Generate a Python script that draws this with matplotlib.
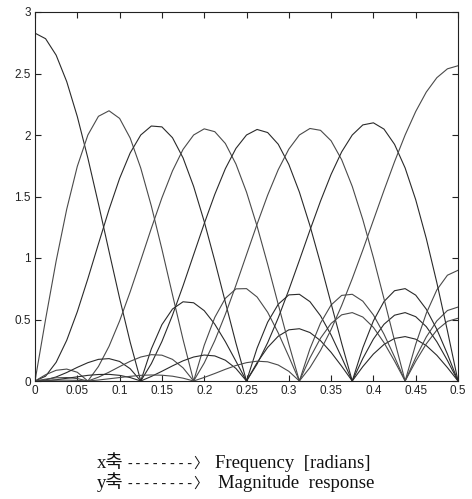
import matplotlib
matplotlib.use("Agg")
import matplotlib.pyplot as plt

freq = [0.0, 0.0125, 0.025, 0.0375, 0.05, 0.0625, 0.075, 0.0875, 0.1, 0.1125,
        0.125, 0.1375, 0.15, 0.1625, 0.175, 0.1875, 0.2, 0.2125, 0.225, 0.2375,
        0.25, 0.2625, 0.275, 0.2875, 0.3, 0.3125, 0.325, 0.3375, 0.35, 0.3625,
        0.375, 0.3875, 0.4, 0.4125, 0.425, 0.4375, 0.45, 0.4625, 0.475, 0.4875, 0.5]

h0 = [2.828, 2.783, 2.649, 2.434, 2.150, 1.812, 1.440, 1.054, 0.673, 0.316, 0, 0.261, 0.458, 0.585,
      0.644, 0.636, 0.572, 0.462, 0.320, 0.161, 0, 0.149, 0.273, 0.364, 0.416, 0.425, 0.394, 0.328,
      0.233, 0.120, 0, 0.117, 0.219, 0.297, 0.346, 0.361, 0.340, 0.288, 0.209, 0.109, 0]
h1 = [0, 0.501, 0.976, 1.397, 1.745, 2.0, 2.152, 2.197, 2.135, 1.975, 1.731, 1.423, 1.072, 0.702,
      0.337, 0, 0.290, 0.517, 0.672, 0.749, 0.751, 0.683, 0.559, 0.391, 0.199, 0, 0.188, 0.348,
      0.468, 0.538, 0.556, 0.520, 0.436, 0.312, 0.162, 0, 0.160, 0.302, 0.414, 0.485, 0.510]
h2 = [0, 0.039, 0.152, 0.331, 0.563, 0.832, 1.115, 1.394, 1.647, 1.854, 2.0, 2.073, 2.066, 1.978,
      1.814, 1.582, 1.297, 0.977, 0.641, 0.308, 0, 0.267, 0.478, 0.624, 0.700, 0.705, 0.645, 0.530,
      0.374, 0.191, 0, 0.183, 0.341, 0.461, 0.535, 0.556, 0.523, 0.442, 0.319, 0.167, 0]
h3 = [0, 0.051, 0.087, 0.097, 0.071, 0, 0.118, 0.282, 0.488, 0.725, 0.981, 1.241, 1.489, 1.708,
      1.883, 2.0, 2.050, 2.027, 1.931, 1.764, 1.536, 1.259, 0.949, 0.623, 0.301, 0, 0.262, 0.471,
      0.618, 0.696, 0.705, 0.649, 0.537, 0.381, 0.196, 0, 0.190, 0.358, 0.489, 0.573, 0.601]
h4 = [0, 0.009, 0.033, 0.069, 0.111, 0.149, 0.176, 0.182, 0.159, 0.100, 0, 0.141, 0.321, 0.535,
      0.774, 1.027, 1.279, 1.517, 1.726, 1.891, 2.0, 2.045, 2.020, 1.925, 1.761, 1.536, 1.263, 0.955,
      0.630, 0.306, 0, 0.270, 0.489, 0.646, 0.734, 0.751, 0.698, 0.584, 0.420, 0.219, 0]
h5 = [0, 0.015, 0.026, 0.028, 0.020, 0, 0.031, 0.072, 0.117, 0.160, 0.195, 0.214, 0.210, 0.176,
      0.107, 0, 0.146, 0.328, 0.542, 0.778, 1.027, 1.275, 1.511, 1.718, 1.885, 2.0, 2.053, 2.038,
      1.953, 1.799, 1.582, 1.312, 1.003, 0.669, 0.328, 0, 0.298, 0.550, 0.741, 0.860, 0.900]
h6 = [0, 0.003, 0.010, 0.022, 0.034, 0.046, 0.053, 0.054, 0.046, 0.028, 0, 0.037, 0.079, 0.123,
      0.164, 0.195, 0.211, 0.204, 0.169, 0.102, 0, 0.138, 0.311, 0.513, 0.740, 0.981, 1.226, 1.463,
      1.680, 1.863, 2.0, 2.082, 2.099, 2.048, 1.924, 1.732, 1.474, 1.159, 0.799, 0.408, 0]
h7 = [0, 0.004, 0.007, 0.007, 0.005, 0, 0.008, 0.018, 0.028, 0.038, 0.046, 0.049, 0.047, 0.039,
      0.023, 0, 0.029, 0.061, 0.095, 0.126, 0.149, 0.161, 0.156, 0.130, 0.079, 0, 0.109, 0.249,
      0.418, 0.614, 0.832, 1.065, 1.307, 1.549, 1.783, 2.0, 2.191, 2.349, 2.466, 2.538, 2.563]

xticks = [0, 0.05, 0.1, 0.15, 0.2, 0.25, 0.3, 0.35, 0.4, 0.45, 0.5]
xticklabels = ["0", "0.05", "0.1", "0.15", "0.2", "0.25", "0.3", "0.35", "0.4", "0.45", "0.5"]
yticks = [0, 0.5, 1, 1.5, 2, 2.5, 3]
yticklabels = ["0", "0.5", "1", "1.5", "2", "2.5", "3"]

axis_names = ["x축", "y축"]
arrow_text = "--------〉"
descriptions = ["Frequency  [radians]", "Magnitude  response"]

W, H = 472, 499
fig = plt.figure(figsize=(W / 100, H / 100), dpi=100)
ax = fig.add_axes([35 / W, 1 - 381 / H, 423 / W, 369 / H])

colors = ["#2a2a2a", "#4a4a4a", "#2a2a2a", "#4a4a4a", "#2a2a2a", "#4a4a4a", "#2a2a2a", "#4a4a4a"]
for h, c in zip([h0, h1, h2, h3, h4, h5, h6, h7], colors):
    ax.plot(freq, h, color=c, linewidth=0.8)

ax.set_xlim(0, 0.5)
ax.set_ylim(0, 3)
ax.set_xticks(xticks)
ax.set_xticklabels(xticklabels)
ax.set_yticks(yticks)
ax.set_yticklabels(yticklabels)
ax.tick_params(direction="in", top=True, right=True, length=4, width=0.8,
               labelsize=8.5, pad=3, colors="#222222")
for lab in ax.get_xticklabels() + ax.get_yticklabels():
    lab.set_family(["Liberation Sans", "DejaVu Sans"])
for sp in ax.spines.values():
    sp.set_linewidth(0.8)
    sp.set_color("#222222")

serif = ["Liberation Serif", "Noto Sans CJK KR", "DejaVu Sans"]
mono = ["DejaVu Sans Mono", "Noto Sans CJK KR"]
baselines = [468, 488]
name_x = [97, 97]
desc_x = [215, 218]
for name, desc, yb, nx, dx in zip(axis_names, descriptions, baselines, name_x, desc_x):
    fig.text(nx / W, 1 - yb / H, name, ha="left", va="baseline",
             fontsize=13.5, family=serif, color="#111111")
    fig.text(126 / W, 1 - yb / H, arrow_text, ha="left", va="baseline",
             fontsize=10.3, family=mono, color="#111111")
    fig.text(dx / W, 1 - yb / H, desc, ha="left", va="baseline",
             fontsize=13.5, family=serif, color="#111111")

fig.savefig("out.png", dpi=100, facecolor="white")
